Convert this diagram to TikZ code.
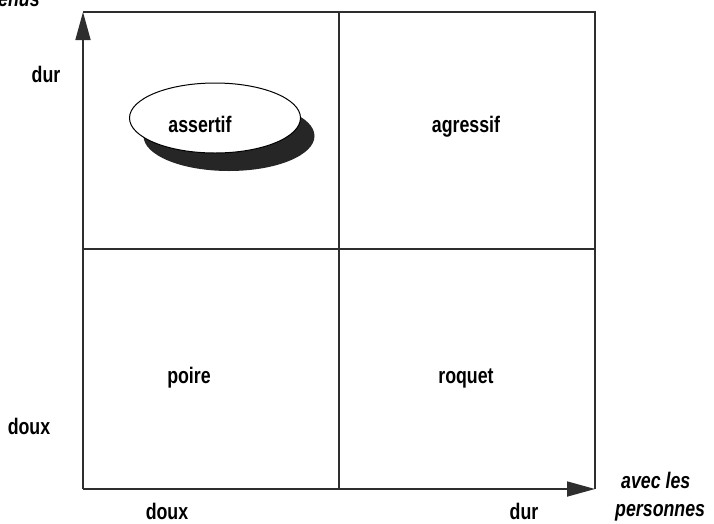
\documentclass[tikz,border=0pt]{standalone}
\usepackage{fontspec}
\setmainfont{Liberation Sans}[FakeStretch=0.79]
\usetikzlibrary{arrows.meta,shapes.geometric}
\begin{document}
\begin{tikzpicture}[x=1pt,y=-1pt,
  lbl/.style={font=\bfseries\fontsize{22.5}{26}\selectfont, inner sep=0pt, anchor=base},
  axlbl/.style={font=\bfseries\itshape\fontsize{22.5}{26}\selectfont, inner sep=0pt},
  frameline/.style={line width=1.7pt, draw=black!82},
  axis/.style={frameline, -{Triangle[length=28pt,width=15pt]}},
  bubble/.style={ellipse, minimum width=171pt, minimum height=70pt, inner sep=0pt}]
\useasboundingbox (0,0) rectangle (714,523);
\clip (0,0) rectangle (714,523);
% grid points
\coordinate (tl) at (83,12);
\coordinate (tm) at (339,12);
\coordinate (tr) at (595,12);
\coordinate (ml) at (83,249);
\coordinate (mr) at (595,249);
\coordinate (bl) at (83,489);
\coordinate (bm) at (339,489);
\coordinate (br) at (595,489);
% frame
\draw[frameline] (tl) -- (tr) -- (br);
\draw[frameline] (tm) -- (bm);
\draw[frameline] (ml) -- (mr);
\draw[axis] (bl) -- (tl);
\draw[axis] (bl) -- (br);
% ellipse with shadow
\node[bubble, fill=black!85] (shadow) at (229,136) {};
\node[bubble, draw=black, line width=1pt, fill=white] (bubblenode) at (215,118) {};
% labels
\node[axlbl, anchor=base west] (enus) at (-2,6) {enus};
\node[lbl] (durtop) at (46,82) {dur};
\node[lbl] (douxleft) at (29,434) {doux};
\node[lbl] (assertif) at (200,132) {assertif};
\node[lbl] (agressif) at (466,132) {agressif};
\node[lbl] (poire) at (189,383) {poire};
\node[lbl] (roquet) at (466,383) {roquet};
\node[lbl] (douxbottom) at (167,519) {doux};
\node[lbl] (durbottom) at (524,519) {dur};
\node[axlbl, anchor=base west] (avecles) at (621,488) {avec les};
\node[axlbl, anchor=base west] (personnes) at (615,516) {personnes};
\end{tikzpicture}
\end{document}
